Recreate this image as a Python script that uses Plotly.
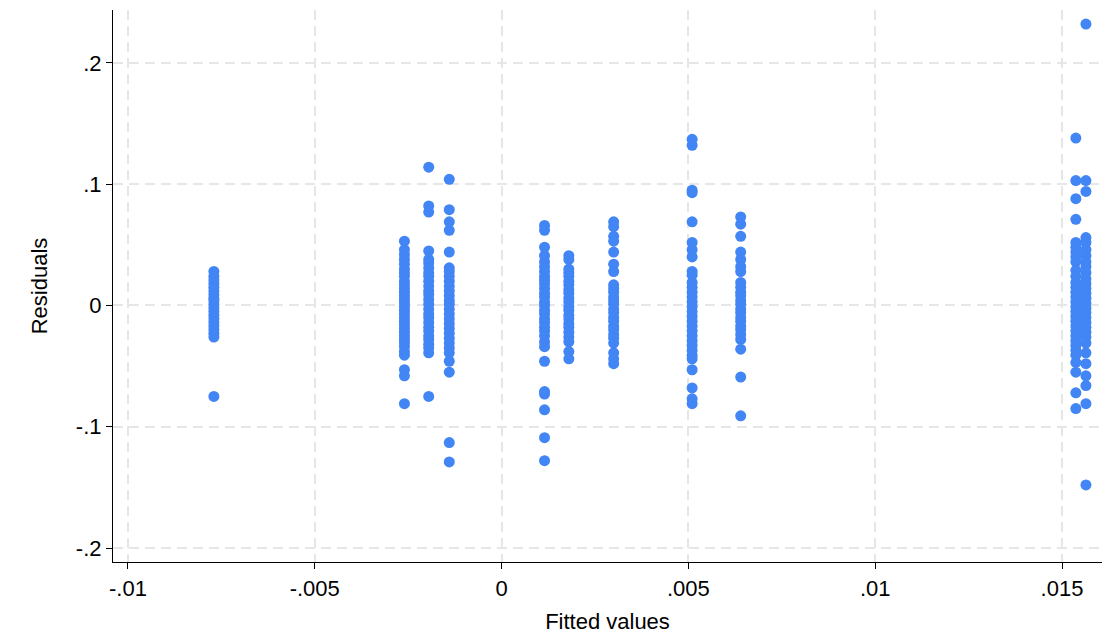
import plotly.graph_objects as go

# Fitted value levels (x) and residuals (y) observed at each level
fitted_levels = [-0.0077, -0.0026, -0.00195, -0.0014, 0.00115, 0.0018,
                 0.003, 0.0051, 0.0064, 0.01537, 0.01564]

res_1 = [0.028, 0.024, 0.021, 0.018, 0.015, 0.012, 0.009, 0.006, 0.004, 0.001,
         -0.002, -0.005, -0.008, -0.011, -0.014, -0.017, -0.020, -0.023, -0.026, -0.075]
res_2 = [0.053, 0.046, 0.042, 0.038, 0.034, 0.030, 0.027, 0.024, 0.020, 0.017,
         0.014, 0.011, 0.008, 0.005, 0.002, -0.001, -0.004, -0.007, -0.010, -0.013,
         -0.016, -0.019, -0.022, -0.025, -0.028, -0.031, -0.034, -0.038, -0.041,
         -0.053, -0.058, -0.081]
res_3 = [0.114, 0.082, 0.077, 0.045, 0.038, 0.035, 0.031, 0.027, 0.024, 0.020,
         0.016, 0.012, 0.009, 0.005, 0.001, -0.003, -0.007, -0.010, -0.014, -0.018,
         -0.021, -0.025, -0.028, -0.032, -0.035, -0.039, -0.075]
res_4 = [0.104, 0.079, 0.069, 0.062, 0.044, 0.031, 0.028, 0.024, 0.020, 0.016,
         0.012, 0.008, 0.004, 0.001, -0.003, -0.007, -0.011, -0.015, -0.019, -0.023,
         -0.027, -0.031, -0.035, -0.039, -0.046, -0.055, -0.113, -0.129]
res_5 = [0.066, 0.062, 0.048, 0.041, 0.036, 0.032, 0.028, 0.024, 0.021, 0.018,
         0.014, 0.010, 0.007, 0.003, 0.000, -0.004, -0.007, -0.011, -0.014, -0.018,
         -0.021, -0.025, -0.030, -0.034, -0.046, -0.071, -0.073, -0.086, -0.109, -0.128]
res_6 = [0.041, 0.038, 0.030, 0.027, 0.024, 0.020, 0.017, 0.013, 0.010, 0.006,
         0.003, -0.001, -0.004, -0.008, -0.011, -0.015, -0.018, -0.022, -0.026,
         -0.030, -0.038, -0.044]
res_7 = [0.069, 0.065, 0.057, 0.053, 0.044, 0.034, 0.028, 0.017, 0.014, 0.011,
         0.007, 0.004, 0.001, -0.003, -0.006, -0.010, -0.013, -0.017, -0.020, -0.024,
         -0.027, -0.031, -0.039, -0.044, -0.048]
res_8 = [0.137, 0.132, 0.095, 0.093, 0.069, 0.052, 0.046, 0.040, 0.028, 0.025,
         0.019, 0.015, 0.011, 0.007, 0.003, -0.001, -0.005, -0.009, -0.013, -0.017,
         -0.021, -0.025, -0.029, -0.033, -0.037, -0.041, -0.044, -0.053, -0.068,
         -0.077, -0.081]
res_9 = [0.073, 0.067, 0.057, 0.044, 0.038, 0.032, 0.028, 0.019, 0.015, 0.011,
         0.008, 0.004, 0.001, -0.003, -0.006, -0.010, -0.013, -0.017, -0.020, -0.024,
         -0.028, -0.036, -0.059, -0.091]
res_10 = [0.138, 0.103, 0.088, 0.071, 0.052, 0.048, 0.044, 0.040, 0.036, 0.029,
          0.024, 0.019, 0.015, 0.011, 0.007, 0.003, -0.001, -0.005, -0.009, -0.013,
          -0.017, -0.021, -0.025, -0.029, -0.033, -0.037, -0.041, -0.047, -0.055,
          -0.072, -0.085]
res_11 = [0.232, 0.103, 0.094, 0.056, 0.052, 0.046, 0.041, 0.036, 0.032, 0.027,
          0.022, 0.018, 0.014, 0.010, 0.006, 0.002, -0.002, -0.006, -0.010, -0.014,
          -0.018, -0.022, -0.026, -0.031, -0.039, -0.048, -0.058, -0.066, -0.081,
          -0.148]

residual_groups = [res_1, res_2, res_3, res_4, res_5, res_6, res_7, res_8,
                   res_9, res_10, res_11]

x_tickvals = [-0.01, -0.005, 0, 0.005, 0.01, 0.015]
x_ticktext = ["-.01", "-.005", "0", ".005", ".01", ".015"]
y_tickvals = [-0.2, -0.1, 0, 0.1, 0.2]
y_ticktext = ["-.2", "-.1", "0", ".1", ".2"]

xs, ys = [], []
for fv, group in zip(fitted_levels, residual_groups):
    for r in group:
        xs.append(fv)
        ys.append(r)

FONT = "Liberation Sans, Arial, Helvetica, sans-serif"

fig = go.Figure(go.Scatter(
    x=xs, y=ys, mode="markers",
    marker=dict(color="#4285f4", size=11, line=dict(width=0)),
    hoverinfo="skip",
))

grid = dict(showgrid=True, gridcolor="#e6e6e6", gridwidth=1.5, griddash="10px,6px",
            zeroline=False, showline=True, linecolor="black", linewidth=1.2,
            ticks="outside", ticklen=6, tickwidth=1.2, tickcolor="black",
            automargin=False,
            tickfont=dict(family=FONT, size=22, color="black"))

fig.update_layout(
    width=1117, height=635,
    margin=dict(l=113, r=15, t=10, b=73),
    paper_bgcolor="white", plot_bgcolor="white",
    showlegend=False,
    font=dict(family=FONT, color="black"),
    xaxis=dict(range=[-0.0104, 0.01607], tickvals=x_tickvals, ticktext=x_ticktext,
               title=dict(text="Fitted values", font=dict(family=FONT, size=22, color="black"),
                          standoff=14),
               **grid),
    yaxis=dict(range=[-0.2115, 0.2436], tickvals=y_tickvals, ticktext=y_ticktext,
               title=dict(text="Residuals", font=dict(family=FONT, size=22, color="black"),
                          standoff=22),
               **grid),
)

fig.write_html("out.html")
